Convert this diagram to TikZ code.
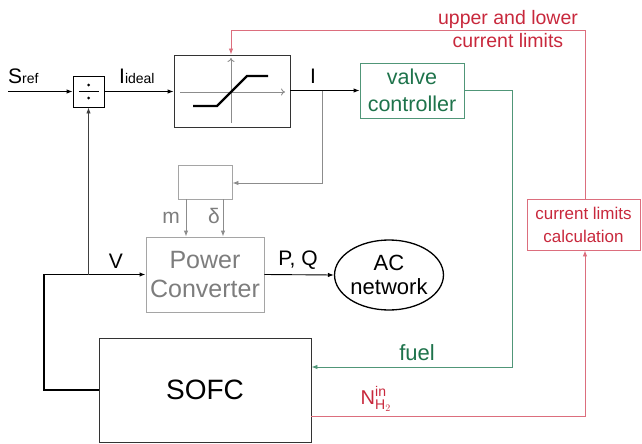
\documentclass[tikz,border=0pt]{standalone}
\usepackage{fontspec}
\setmainfont{Liberation Sans}
\usetikzlibrary{arrows.meta,shapes.geometric}
\definecolor{gtext}{RGB}{30,115,75}
\definecolor{gline}{RGB}{80,150,120}
\definecolor{rtext}{RGB}{200,40,60}
\definecolor{rline}{RGB}{220,110,125}
\definecolor{graytext}{RGB}{125,125,125}
\definecolor{graybox}{RGB}{165,165,165}
\definecolor{grayline}{RGB}{140,140,140}
\newcommand{\smallsub}[1]{{\fontsize{14}{14}\selectfont #1}}
\tikzset{
  blk/.style={draw, rectangle, inner sep=0pt, line width=0.9pt},
  arr/.style={-{Latex[length=6pt,width=4.5pt]}, line width=0.9pt},
  lbl/.style={inner sep=0pt, font=\fontsize{21}{23}\selectfont},
}
\begin{document}
\begin{tikzpicture}[x=1pt,y=-1pt]
\useasboundingbox (0,0) rectangle (642,444);
% blocks
\node[blk, minimum width=31pt, minimum height=31pt] (div) at (88.5,91.5) {};
\node[blk, draw=black!80, minimum width=116pt, minimum height=72pt] (sat) at (232,91) {};
\node[blk, draw=gline, text=gtext, minimum width=104pt, minimum height=55pt, align=center, font=\fontsize{21.5}{27}\selectfont] (valve) at (412,90.5) {valve\\controller};
\node[blk, draw=graybox, minimum width=54pt, minimum height=34pt] (small) at (205,182) {};
\node[blk, draw=graybox, text=graytext, minimum width=118pt, minimum height=75pt, align=center, font=\fontsize{25}{29}\selectfont] (pc) at (205,274.5) {Power\\Converter};
\node[draw, ellipse, line width=1.3pt, minimum width=106pt, minimum height=70pt, inner sep=0pt, align=center, font=\fontsize{22}{24}\selectfont] (ac) at (389,275) {AC\\network};
\node[blk, draw=black!80, text=black, minimum width=212pt, minimum height=104pt, font=\fontsize{28}{30}\selectfont] (sofc) at (205,390) {SOFC};
\node[blk, draw=rline, text=rtext, minimum width=113pt, minimum height=51pt, align=center, font=\fontsize{17}{23}\selectfont] (clc) at (583.5,224.5) {current limits\\calculation};
% divider symbol
\fill (88.5,85) circle (1.5pt);
\fill (88.5,98) circle (1.5pt);
\draw[line width=0.9pt] (79,91.5) -- (99,91.5);
% saturation characteristic
\draw[grayline, line width=0.9pt, -{To[length=4pt,width=7pt]}] (180,92) -- (285,92);
\draw[grayline, line width=0.9pt, -{To[length=4pt,width=7pt]}] (231,123) -- (231,58);
\draw[line width=2.4pt] (193,106) -- (217,106) -- (247,76) -- (268,76);
% signal connectors
\coordinate (sin) at (8,91.5);
\draw[arr] (sin) -- (div.west);
\node[lbl, anchor=base west] (sref) at (8,83) {S\smallsub{ref}};
\draw[arr] (div.east) -- (div.east -| sat.west);
\node[lbl, anchor=base west] (iid) at (119,83) {I\smallsub{ideal}};
\draw[arr] (sat.east |- valve.west) -- (valve.west);
\node[lbl, anchor=base] (ilab) at (313,83) {I};
\coordinate (br) at (322,90.5);
\draw[grayline, line width=0.9pt, -{Latex[length=6pt,width=4.5pt]}] (br) -- (322,183) -- (small.east |- 0,183);
% m and delta
\coordinate (mtop) at (186,199);
\coordinate (dtop) at (223,199);
\draw[grayline, line width=0.9pt, -{Latex[length=6pt,width=4.5pt]}] (mtop) -- (mtop |- pc.north);
\draw[grayline, line width=0.9pt, -{Latex[length=6pt,width=4.5pt]}] (dtop) -- (dtop |- pc.north);
\node[lbl, text=graytext, anchor=base] (mlab) at (171,223) {m};
\node[lbl, text=graytext, anchor=base] (dlab) at (214,223) {δ};
% P,Q
\draw[arr] (pc.east) -- (ac.west);
\node[lbl, anchor=base] (pq) at (298,265) {P, Q};
% V loop
\coordinate (vl) at (44,390);
\coordinate (vt) at (44,274.5);
\coordinate (vj) at (89,274.5);
\draw[line width=1.3pt] (sofc.west |- vl) -- (vl) -- (vt) -- (vj);
\draw[arr, line width=1.3pt] (vj) -- (pc.west);
\draw[arr, black!75] (88.5,274.5) -- (div.south);
\node[lbl, anchor=base] (vlab) at (116,268) {V};
% fuel
\coordinate (g1) at (512,90.5);
\coordinate (g2) at (512,367);
\draw[gline, line width=0.9pt, -{Latex[length=6pt,width=4.5pt]}] (valve.east) -- (g1) -- (g2) -- (sofc.east |- g2);
\node[lbl, text=gtext, anchor=base, font=\fontsize{22}{24}\selectfont] (fuel) at (417,360) {fuel};
% N_H2
\coordinate (r1) at (585,416);
\draw[rline, line width=0.9pt, -{Latex[length=6pt,width=4.5pt]}] (sofc.east |- r1) -- (r1) -- (r1 |- clc.south);
\node[text=rtext, anchor=base, inner sep=0pt, font=\fontsize{20}{22}\selectfont] (nlab) at (376,404) {$\mathrm{N}^{\mathrm{in}}_{\mathrm{H}_2}$};
% limits feedback
\coordinate (r2) at (585,30);
\coordinate (r3) at (231,30);
\draw[rline, line width=0.9pt, -{Latex[length=6pt,width=4.5pt]}] (r2 |- clc.north) -- (r2) -- (r3) -- (r3 |- sat.north);
\node[text=rtext, align=center, inner sep=0pt, font=\fontsize{19.5}{23}\selectfont] (ulab) at (508,29) {upper and lower\\current limits};
\end{tikzpicture}
\end{document}
